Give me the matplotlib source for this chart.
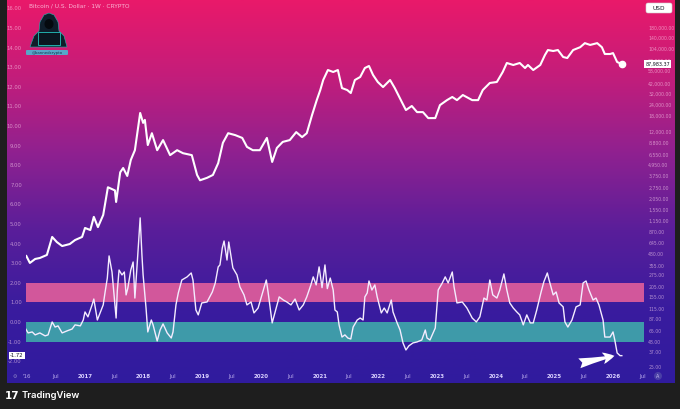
import numpy as np
import matplotlib.pyplot as plt
from matplotlib.colors import LinearSegmentedColormap
from matplotlib.ticker import FixedLocator, NullLocator
from matplotlib.patches import FancyBboxPatch, Polygon, Ellipse
import matplotlib.transforms as mtransforms

W, H = 680, 409

# BTC weekly close (approx), decimal years
price_dates = [2016.00, 2016.06, 2016.15, 2016.23, 2016.35, 2016.44, 2016.52, 2016.61, 2016.74, 2016.83,
               2016.95, 2017.00, 2017.09, 2017.15, 2017.22, 2017.31, 2017.39, 2017.51, 2017.53, 2017.60,
               2017.65, 2017.72, 2017.78, 2017.85, 2017.94, 2017.99, 2018.02, 2018.07, 2018.14, 2018.23,
               2018.33, 2018.45, 2018.57, 2018.67, 2018.82, 2018.91, 2018.96, 2019.08, 2019.18, 2019.27,
               2019.35, 2019.44, 2019.56, 2019.68, 2019.76, 2019.86, 2019.98, 2020.10, 2020.19, 2020.27,
               2020.37, 2020.49, 2020.60, 2020.70, 2020.78, 2020.87, 2020.95, 2021.01, 2021.06, 2021.14,
               2021.23, 2021.31, 2021.38, 2021.47, 2021.53, 2021.60, 2021.69, 2021.77, 2021.84, 2021.91,
               2021.99, 2022.08, 2022.20, 2022.28, 2022.40, 2022.47, 2022.57, 2022.66, 2022.76, 2022.85,
               2022.97, 2023.05, 2023.17, 2023.26, 2023.34, 2023.44, 2023.60, 2023.70, 2023.78, 2023.90,
               2024.02, 2024.12, 2024.19, 2024.30, 2024.41, 2024.50, 2024.55, 2024.64, 2024.76, 2024.84,
               2024.89, 2024.98, 2025.06, 2025.15, 2025.22, 2025.32, 2025.44, 2025.52, 2025.61, 2025.73,
               2025.81, 2025.86, 2025.95, 2026.00, 2026.07, 2026.15]
price = [458, 382, 424, 435, 471, 755, 660, 595, 627, 696,
         755, 955, 905, 1277, 977, 1343, 2775, 2553, 1887, 4107,
         4595, 3730, 5661, 7326, 19425, 14985, 16206, 8380, 11433, 7326,
         9546, 6438, 7326, 6771, 6438, 3830, 3330, 3552, 3830, 5217,
         8880, 11433, 10878, 10101, 7992, 7326, 7326, 10101, 5384, 7770,
         9102, 9546, 11766, 10323, 11433, 18426, 27195, 35409, 46065, 59829,
         56832, 59829, 37296, 35409, 32745, 46065, 49839, 63048, 66489, 52503,
         43734, 38295, 46065, 37296, 25863, 20979, 23310, 19869, 19869, 16983,
         16983, 23865, 27195, 29526, 27195, 31080, 27195, 27195, 35409, 42624,
         43734, 56832, 71928, 68265, 71928, 63048, 68265, 59829, 68265, 88800,
         101010, 98457, 101010, 84138, 81918, 101010, 108780, 120990, 115440, 120990,
         108780, 91020, 91020, 93240, 73815, 69930]

# oscillator
osc_dates = [2015.99, 2016.03, 2016.10, 2016.15, 2016.23, 2016.32, 2016.37, 2016.44, 2016.49, 2016.54,
             2016.61, 2016.69, 2016.78, 2016.83, 2016.92, 2016.97, 2017.00, 2017.05, 2017.12, 2017.15,
             2017.21, 2017.27, 2017.31, 2017.34, 2017.38, 2017.41, 2017.46, 2017.48, 2017.53, 2017.55,
             2017.58, 2017.63, 2017.67, 2017.70, 2017.73, 2017.78, 2017.82, 2017.85, 2017.89, 2017.94,
             2017.97, 2017.99, 2018.04, 2018.07, 2018.13, 2018.16, 2018.19, 2018.23, 2018.28, 2018.33,
             2018.40, 2018.47, 2018.50, 2018.55, 2018.59, 2018.65, 2018.74, 2018.81, 2018.84, 2018.89,
             2018.93, 2018.99, 2019.08, 2019.17, 2019.22, 2019.27, 2019.30, 2019.34, 2019.37, 2019.42,
             2019.45, 2019.49, 2019.52, 2019.59, 2019.64, 2019.71, 2019.76, 2019.83, 2019.88, 2019.95,
             2020.03, 2020.09, 2020.12, 2020.19, 2020.24, 2020.31, 2020.38, 2020.44, 2020.51, 2020.58,
             2020.65, 2020.72, 2020.78, 2020.85, 2020.89, 2020.94, 2020.99, 2021.04, 2021.09, 2021.13,
             2021.18, 2021.23, 2021.26, 2021.30, 2021.33, 2021.38, 2021.43, 2021.48, 2021.53, 2021.57,
             2021.64, 2021.69, 2021.74, 2021.77, 2021.81, 2021.84, 2021.89, 2021.94, 2021.98, 2022.05,
             2022.10, 2022.15, 2022.22, 2022.25, 2022.32, 2022.37, 2022.42, 2022.47, 2022.52, 2022.59,
             2022.66, 2022.74, 2022.80, 2022.83, 2022.88, 2022.97, 2023.02, 2023.09, 2023.14, 2023.19,
             2023.26, 2023.29, 2023.34, 2023.43, 2023.51, 2023.60, 2023.67, 2023.73, 2023.80, 2023.85,
             2023.90, 2023.95, 2024.02, 2024.07, 2024.14, 2024.19, 2024.24, 2024.30, 2024.36, 2024.41,
             2024.47, 2024.53, 2024.59, 2024.64, 2024.70, 2024.77, 2024.82, 2024.88, 2024.91, 2024.98,
             2025.03, 2025.08, 2025.15, 2025.18, 2025.23, 2025.30, 2025.37, 2025.44, 2025.49, 2025.54,
             2025.59, 2025.66, 2025.71, 2025.76, 2025.83, 2025.86, 2025.95, 2026.00, 2026.03, 2026.07,
             2026.12, 2026.15]
osc = [-0.36, -0.56, -0.51, -0.66, -0.56, -0.71, -0.66, 0.00, -0.26, -0.20,
       -0.56, -0.46, -0.36, -0.15, -0.20, 0.10, 0.51, 0.26, 0.87, 1.17,
       0.10, 0.56, 0.87, 1.48, 2.24, 3.37, 2.55, 1.89, 0.20, 1.58,
       2.65, 2.40, 2.55, 1.38, 1.73, 2.65, 3.06, 1.22, 3.00, 5.31,
       3.42, 2.40, 0.71, -0.51, 0.10, -0.15, -0.51, -0.97, -0.41, -0.10,
       -0.56, -0.82, -0.51, 0.87, 1.48, 2.14, 2.30, 2.50, 2.14, 0.61,
       0.36, 0.97, 1.02, 1.53, 1.99, 2.81, 2.91, 3.78, 4.13, 3.16,
       4.08, 3.32, 2.76, 2.40, 1.79, 1.38, 0.87, 1.02, 0.46, 0.71,
       1.53, 2.14, 1.53, -0.05, 0.51, 1.28, 1.12, 1.02, 0.87, 1.17,
       0.61, 0.87, 1.28, 1.89, 2.30, 1.89, 2.81, 1.75, 2.91, 1.70,
       2.24, 1.63, 0.61, 0.51, -0.15, -0.77, -0.66, -0.82, -0.87, -0.26,
       0.10, 0.20, 0.10, 1.28, 1.48, 2.09, 1.63, 1.89, 1.28, 0.46,
       0.71, 0.46, 1.12, 0.51, -0.05, -0.41, -1.07, -1.43, -1.22, -1.07,
       -1.02, -0.92, -0.41, -0.82, -0.92, -0.31, 1.63, 1.99, 2.30, 1.99,
       2.55, 1.79, 0.97, 1.02, 0.71, 0.20, 0.00, 0.26, 1.22, 1.12,
       2.14, 1.38, 1.22, 1.63, 2.45, 1.63, 0.97, 0.71, 0.51, 0.36,
       -0.15, 0.36, -0.05, -0.05, 0.61, 1.48, 2.04, 2.50, 2.14, 1.38,
       1.53, 0.97, 0.77, 0.00, -0.26, 0.10, 0.77, 0.87, 1.99, 2.09,
       1.63, 1.12, 1.22, 0.87, 0.10, -0.77, -0.77, -0.51, -0.92, -1.58,
       -1.72, -1.72]

band_hi = (1, 2)
band_lo = (-1, 0)

left_ticks = list(range(-2, 17))
right_ticks = [180000, 140000, 104000, 77000, 58000, 42000, 32000, 24000, 18000, 12000,
               8800, 6550, 4950, 3750, 2750, 2050, 1550, 1150, 870, 645,
               480, 355, 275, 205, 155, 115, 87, 65, 48, 37, 25]
x_ticks = [2016.0 + 0.5 * i for i in range(22)]
x_labels = ["'16", "Jul", "2017", "Jul", "2018", "Jul", "2019", "Jul", "2020", "Jul", "2021",
            "Jul", "2022", "Jul", "2023", "Jul", "2024", "Jul", "2025", "Jul", "2026", "Jul"]
last_price_label = "87,983.37"
title = "Bitcoin / U.S. Dollar · 1W · CRYPTO"

plt.rcParams['font.family'] = ['DejaVu Sans']

fig = plt.figure(figsize=(W / 100, H / 100), dpi=100, facecolor="#1e1e1e")


def frac(x0, y0, x1, y1):
    return [x0 / W, 1 - y1 / H, (x1 - x0) / W, (y1 - y0) / H]


# gradient background
bg = fig.add_axes(frac(7, 0, 675, 383))
grad = LinearSegmentedColormap.from_list(
    "tvbg", ["#e9196a", "#c31d7b", "#8f2190", "#5a1e9a", "#3a1c9e", "#301b9e"])
bg.imshow(np.linspace(0, 1, 256)[:, None], aspect="auto", cmap=grad, extent=(0, 1, 0, 1))
bg.axis("off")

# oscillator pane
ax = fig.add_axes(frac(26, 0, 644, 368))
ax.set_facecolor("none")
ax.set_xlim(2015.994, 2026.528)
ax.set_ylim(-2.35, 16.43)
for s in ax.spines.values():
    s.set_visible(False)
ax.axhspan(*band_hi, color="#d2579b", lw=0, zorder=1)
ax.axhspan(*band_lo, color="#3e9aa9", lw=0, zorder=1)
ax.plot(osc_dates, osc, color="#f4ecff", lw=1.0, zorder=3)

ax.yaxis.set_major_locator(FixedLocator(left_ticks))
ax.set_yticklabels([f"{v:.2f}" for v in left_ticks])
ax.tick_params(axis="y", length=0, pad=3, labelsize=3.8, labelcolor=(1, 0.85, 0.95, 0.6))
ax.set_xticks(x_ticks)
ax.set_xticklabels(x_labels)
ax.tick_params(axis="x", length=0, pad=4, labelsize=4.0, labelcolor="#b7a8ea")
for lab in ax.get_xticklabels():
    if lab.get_text()[:2] == "20":
        lab.set_color("#d9d0ff")
        lab.set_fontweight("bold")

# price on log scale
pax = ax.twinx()
pax.set_yscale("log")
pax.set_ylim(10 ** (5.255 - 340 / 87.9), 10 ** (5.255 + 28 / 87.9))
for s in pax.spines.values():
    s.set_visible(False)
pax.plot(price_dates, price, color="white", lw=1.5, zorder=4, solid_joinstyle="round")
pax.plot(price_dates[-1], price[-1], "o", color="white", ms=4.5, zorder=5)
pax.yaxis.set_major_locator(FixedLocator(right_ticks))
pax.yaxis.set_minor_locator(NullLocator())
pax.set_yticklabels([f"{v:,.2f}" for v in right_ticks])
pax.tick_params(axis="y", which="both", length=0, pad=3, labelsize=3.3, labelcolor=(1, 0.85, 0.95, 0.6))

# last value labels
tl = mtransforms.blended_transform_factory(ax.transAxes, ax.transData)
ax.text(-0.004, osc[-1], f"{osc[-1]:.2f}", transform=tl, ha="right", va="center", fontsize=3.8,
        color="#131722", zorder=6, clip_on=False,
        bbox=dict(boxstyle="square,pad=0.25", fc="white", ec="none"))
tr = mtransforms.blended_transform_factory(pax.transAxes, pax.transData)
pax.text(1.002, price[-1], last_price_label, transform=tr, ha="left", va="center", fontsize=3.5,
         color="#131722", zorder=6, clip_on=False,
         bbox=dict(boxstyle="square,pad=0.3", fc="white", ec="none"))

# arrow pointing at the latest reading
ax.annotate("", xy=(osc_dates[-1] - 0.08, osc[-1] + 0.02), xytext=(osc_dates[-1] - 0.77, osc[-1] - 0.42),
            arrowprops=dict(arrowstyle="fancy,head_length=0.7,head_width=0.7,tail_width=0.6",
                            color="white", lw=0, mutation_scale=12), zorder=6)

# decorations in pixel coordinates
deco = fig.add_axes([0, 0, 1, 1], zorder=10)
deco.set_xlim(0, W)
deco.set_ylim(H, 0)
deco.axis("off")
deco.patch.set_visible(False)

deco.text(29, 6, title, fontsize=4.2, color=(1, 0.85, 0.93, 0.8), va="center", ha="left")
deco.add_patch(FancyBboxPatch((646, 3), 26, 10, boxstyle="round,pad=0,rounding_size=2",
                              fc="white", ec="#d0d0d0", lw=0.4))
deco.text(659, 8.2, "USD", fontsize=4.2, color="#131722", ha="center", va="center")

# watermark avatar
deco.add_patch(Polygon([(30, 47), (34, 36), (39, 31), (40, 22), (44, 15), (49, 13), (54, 15), (58, 22),
                        (59, 31), (64, 36), (67, 47)], closed=True, fc="#0f1d2a", ec="#1fb5b0", lw=0.4))
deco.add_patch(Ellipse((49, 24), 9, 10, fc="#05090e", ec="none"))
deco.add_patch(FancyBboxPatch((38, 32), 22, 13, boxstyle="square,pad=0", fc="#0b1620", ec="#25c6c0", lw=0.6))
deco.add_patch(FancyBboxPatch((26, 50), 42, 5, boxstyle="round,pad=0,rounding_size=1", fc="#57a6c9", ec="none"))
deco.text(47, 52.6, "@bannedcrypto", fontsize=2.8, color="#17324a", ha="center", va="center")

# bottom icons
deco.text(15, 376, "⚙", fontsize=3.5, color="#8f84c8", ha="center", va="center")
deco.add_patch(Ellipse((658, 376), 8, 8, fc="#4a3fa6", ec="none"))
deco.text(658, 376.3, "A", fontsize=3.5, color="#c8c0f0", ha="center", va="center")

# footer
deco.text(5, 396, "17", fontsize=7.5, fontweight="bold", color="white", ha="left", va="center")
deco.text(22, 396, "TradingView", fontsize=6.8, color="white", ha="left", va="center",
          family=["Inter", "DejaVu Sans"], fontweight="semibold")

fig.savefig("out.png", dpi=100, facecolor=fig.get_facecolor())
